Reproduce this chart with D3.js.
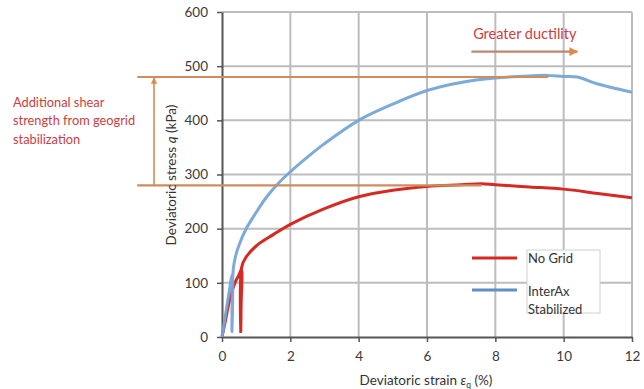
<!DOCTYPE html>
<html>
<head>
<meta charset="utf-8">
<script src="https://cdn.jsdelivr.net/npm/d3@7"></script>
<style>
  body { margin: 0; background: #fff; }
  text { font-family: Lato, "Open Sans", sans-serif; }
</style>
</head>
<body>
<script>
// Chart data
var xTicks = [0, 2, 4, 6, 8, 10, 12];
var yTicks = [0, 100, 200, 300, 400, 500, 600];

// No Grid curve: strain (%) and stress (kPa), incl. the unload/reload loop
var noGridStrain = [0, 0.1, 0.25, 0.4, 0.5, 0.57, 0.56, 0.55, 0.58, 0.7, 1, 1.5, 2, 3, 4, 5, 6, 7, 7.6, 8, 9, 10, 11, 12];
var noGridStress = [0, 30, 75, 103, 115, 125, 60, 10, 130, 147, 168, 189, 208, 237, 259, 271, 278, 281, 283, 281, 277, 273, 265, 257];

// InterAx Stabilized curve
var interAxStrain = [0, 0.1, 0.2, 0.3, 0.31, 0.29, 0.33, 0.4, 0.5, 0.7, 1, 1.3, 1.7, 2, 2.5, 3, 4, 5, 6, 7, 8, 9, 9.5, 10, 10.4, 11, 12];
var interAxStress = [0, 40, 80, 115, 60, 10, 125, 150, 170, 199, 230, 258, 287, 305, 332, 357, 400, 430, 455, 470, 478, 482, 483, 481, 480, 467, 452];

// Reference levels
var peakLevels = [280, 480];
var peakEnds = [7.6, 9.55];

var seriesNames = ["No Grid", "InterAx Stabilized"];

// Chart Params
var svgWidth = 644;
var svgHeight = 389;

var margin = { top: 12, right: 12, bottom: 52, left: 222 };
var width = 632 - margin.left;
var height = 337 - margin.top;

var svg = d3.select("body")
  .append("svg")
  .attr("width", svgWidth)
  .attr("height", svgHeight);

var chartGroup = svg.append("g")
  .attr("transform", `translate(${margin.left}, ${margin.top})`);

// Scales
var xScale = d3.scaleLinear().domain([0, 12]).range([0, width]);
var yScale = d3.scaleLinear().domain([0, 600]).range([height, 0]);

// Gridlines
chartGroup.append("g")
  .selectAll("line")
  .data(xTicks.slice(1))
  .enter()
  .append("line")
  .attr("x1", d => xScale(d)).attr("x2", d => xScale(d))
  .attr("y1", 0).attr("y2", height)
  .attr("stroke", "#bdbdbd").attr("stroke-width", 2);

chartGroup.append("g")
  .selectAll("line")
  .data(yTicks.slice(1))
  .enter()
  .append("line")
  .attr("x1", 0).attr("x2", width)
  .attr("y1", d => yScale(d)).attr("y2", d => yScale(d))
  .attr("stroke", "#bdbdbd").attr("stroke-width", 2);

// Axes
var bottomAxis = d3.axisBottom(xScale).tickValues(xTicks).tickSize(5).tickSizeOuter(0);
var leftAxis = d3.axisLeft(yScale).tickValues(yTicks).tickSize(5).tickSizeOuter(0);

var xAxisG = chartGroup.append("g")
  .attr("transform", `translate(0, ${height})`)
  .call(bottomAxis);

var yAxisG = chartGroup.append("g").call(leftAxis);

[xAxisG, yAxisG].forEach(function (g) {
  g.select(".domain").attr("stroke", "#555").attr("stroke-width", 2);
  g.selectAll(".tick line").attr("stroke", "#555").attr("stroke-width", 1.5);
  g.selectAll(".tick text")
    .attr("fill", "#3a3a3a")
    .style("font-size", "13.5px")
    .style("font-family", "Lato, sans-serif");
});
xAxisG.selectAll(".tick text").attr("dy", "1.2em");
yAxisG.selectAll(".tick text").attr("x", -14);

// Line generators
var line = d3.line()
  .x(d => xScale(d[0]))
  .y(d => yScale(d[1]))
  .curve(d3.curveCatmullRom.alpha(0.5));

var noGridData = noGridStrain.map((s, i) => [s, noGridStress[i]]);
var interAxData = interAxStrain.map((s, i) => [s, interAxStress[i]]);

var blue = "#76a5d5";
var red = "#d42a23";

chartGroup.append("path")
  .datum(noGridData)
  .attr("d", line)
  .attr("fill", "none")
  .attr("stroke", red)
  .attr("stroke-width", 3);

chartGroup.append("path")
  .datum(interAxData)
  .attr("d", line)
  .attr("fill", "none")
  .attr("stroke", blue)
  .attr("stroke-width", 3)
  .attr("stroke-opacity", 0.95);

// Orange reference lines (peak strength levels), drawn over the curves
var orange = "#cf8d5e";
chartGroup.append("g")
  .selectAll("line")
  .data(peakLevels)
  .enter()
  .append("line")
  .attr("x1", xScale(-2.48))
  .attr("x2", (d, i) => xScale(peakEnds[i]))
  .attr("y1", d => yScale(d)).attr("y2", d => yScale(d))
  .attr("stroke", orange).attr("stroke-width", 2.2);

// Arrow markers
var defs = svg.append("defs");
defs.append("marker")
  .attr("id", "arrowOrange")
  .attr("viewBox", "0 0 10 10")
  .attr("refX", 9).attr("refY", 5)
  .attr("markerWidth", 4).attr("markerHeight", 4)
  .attr("orient", "auto")
  .append("path")
  .attr("d", "M0,0 L10,5 L0,10 z")
  .attr("fill", "#e0894a");

// vertical arrow for the added shear strength
chartGroup.append("line")
  .attr("x1", xScale(-1.99)).attr("x2", xScale(-1.99))
  .attr("y1", yScale(peakLevels[0])).attr("y2", yScale(peakLevels[1]) + 1)
  .attr("stroke", orange).attr("stroke-width", 1.6)
  .attr("marker-end", "url(#arrowOrange)");

// horizontal ductility arrow
chartGroup.append("line")
  .attr("x1", xScale(7.3)).attr("x2", xScale(10.4))
  .attr("y1", yScale(527)).attr("y2", yScale(527))
  .attr("stroke", "#b88a6e").attr("stroke-width", 2.2)
  .attr("marker-end", "url(#arrowOrange)");

// Annotation texts
var annoRed = "#cc4040";
chartGroup.append("text")
  .attr("x", xScale(7.35)).attr("y", yScale(550))
  .attr("fill", annoRed)
  .style("font-size", "14.5px")
  .text("Greater ductility");

var leftNote = ["Additional shear", "strength from geogrid", "stabilization"];
chartGroup.append("g")
  .selectAll("text")
  .data(leftNote)
  .enter()
  .append("text")
  .attr("x", 13 - margin.left)
  .attr("y", (d, i) => 106.5 - margin.top + i * 18.7)
  .attr("fill", annoRed)
  .style("font-size", "12.8px")
  .text(d => d);

// Legend
var legend = svg.append("g");
legend.append("rect")
  .attr("x", 527).attr("y", 250)
  .attr("width", 73).attr("height", 63)
  .attr("fill", "#fff")
  .attr("stroke", "#d0d0d0");

legend.append("line")
  .attr("x1", 472).attr("x2", 517).attr("y1", 258).attr("y2", 258)
  .attr("stroke", red).attr("stroke-width", 3);
legend.append("line")
  .attr("x1", 472).attr("x2", 517).attr("y1", 290).attr("y2", 290)
  .attr("stroke", "#5f8fc4").attr("stroke-width", 3);

legend.append("text")
  .attr("x", 528).attr("y", 263)
  .attr("fill", "#333").style("font-size", "13px")
  .text(seriesNames[0]);
legend.append("text")
  .attr("x", 528).attr("y", 296)
  .attr("fill", "#333").style("font-size", "13px")
  .text("InterAx");
legend.append("text")
  .attr("x", 528).attr("y", 314)
  .attr("fill", "#333").style("font-size", "13px")
  .text("Stabilized");

// Axes titles
var xTitle = svg.append("text")
  .attr("x", 426).attr("y", 385)
  .attr("text-anchor", "middle")
  .attr("fill", "#333")
  .style("font-size", "13.5px");
xTitle.append("tspan").text("Deviatoric strain ");
xTitle.append("tspan").style("font-style", "italic").text("ε");
xTitle.append("tspan").attr("dy", 3).style("font-size", "8.5px").text("q");
xTitle.append("tspan").attr("dy", -3).text(" (%)");

var yTitle = svg.append("text")
  .attr("transform", "translate(176, 175) rotate(-90)")
  .attr("text-anchor", "middle")
  .attr("fill", "#333")
  .style("font-size", "13.5px");
yTitle.append("tspan").text("Deviatoric stress ");
yTitle.append("tspan").style("font-style", "italic").text("q");
yTitle.append("tspan").text(" (kPa)");
</script>
</body>
</html>
